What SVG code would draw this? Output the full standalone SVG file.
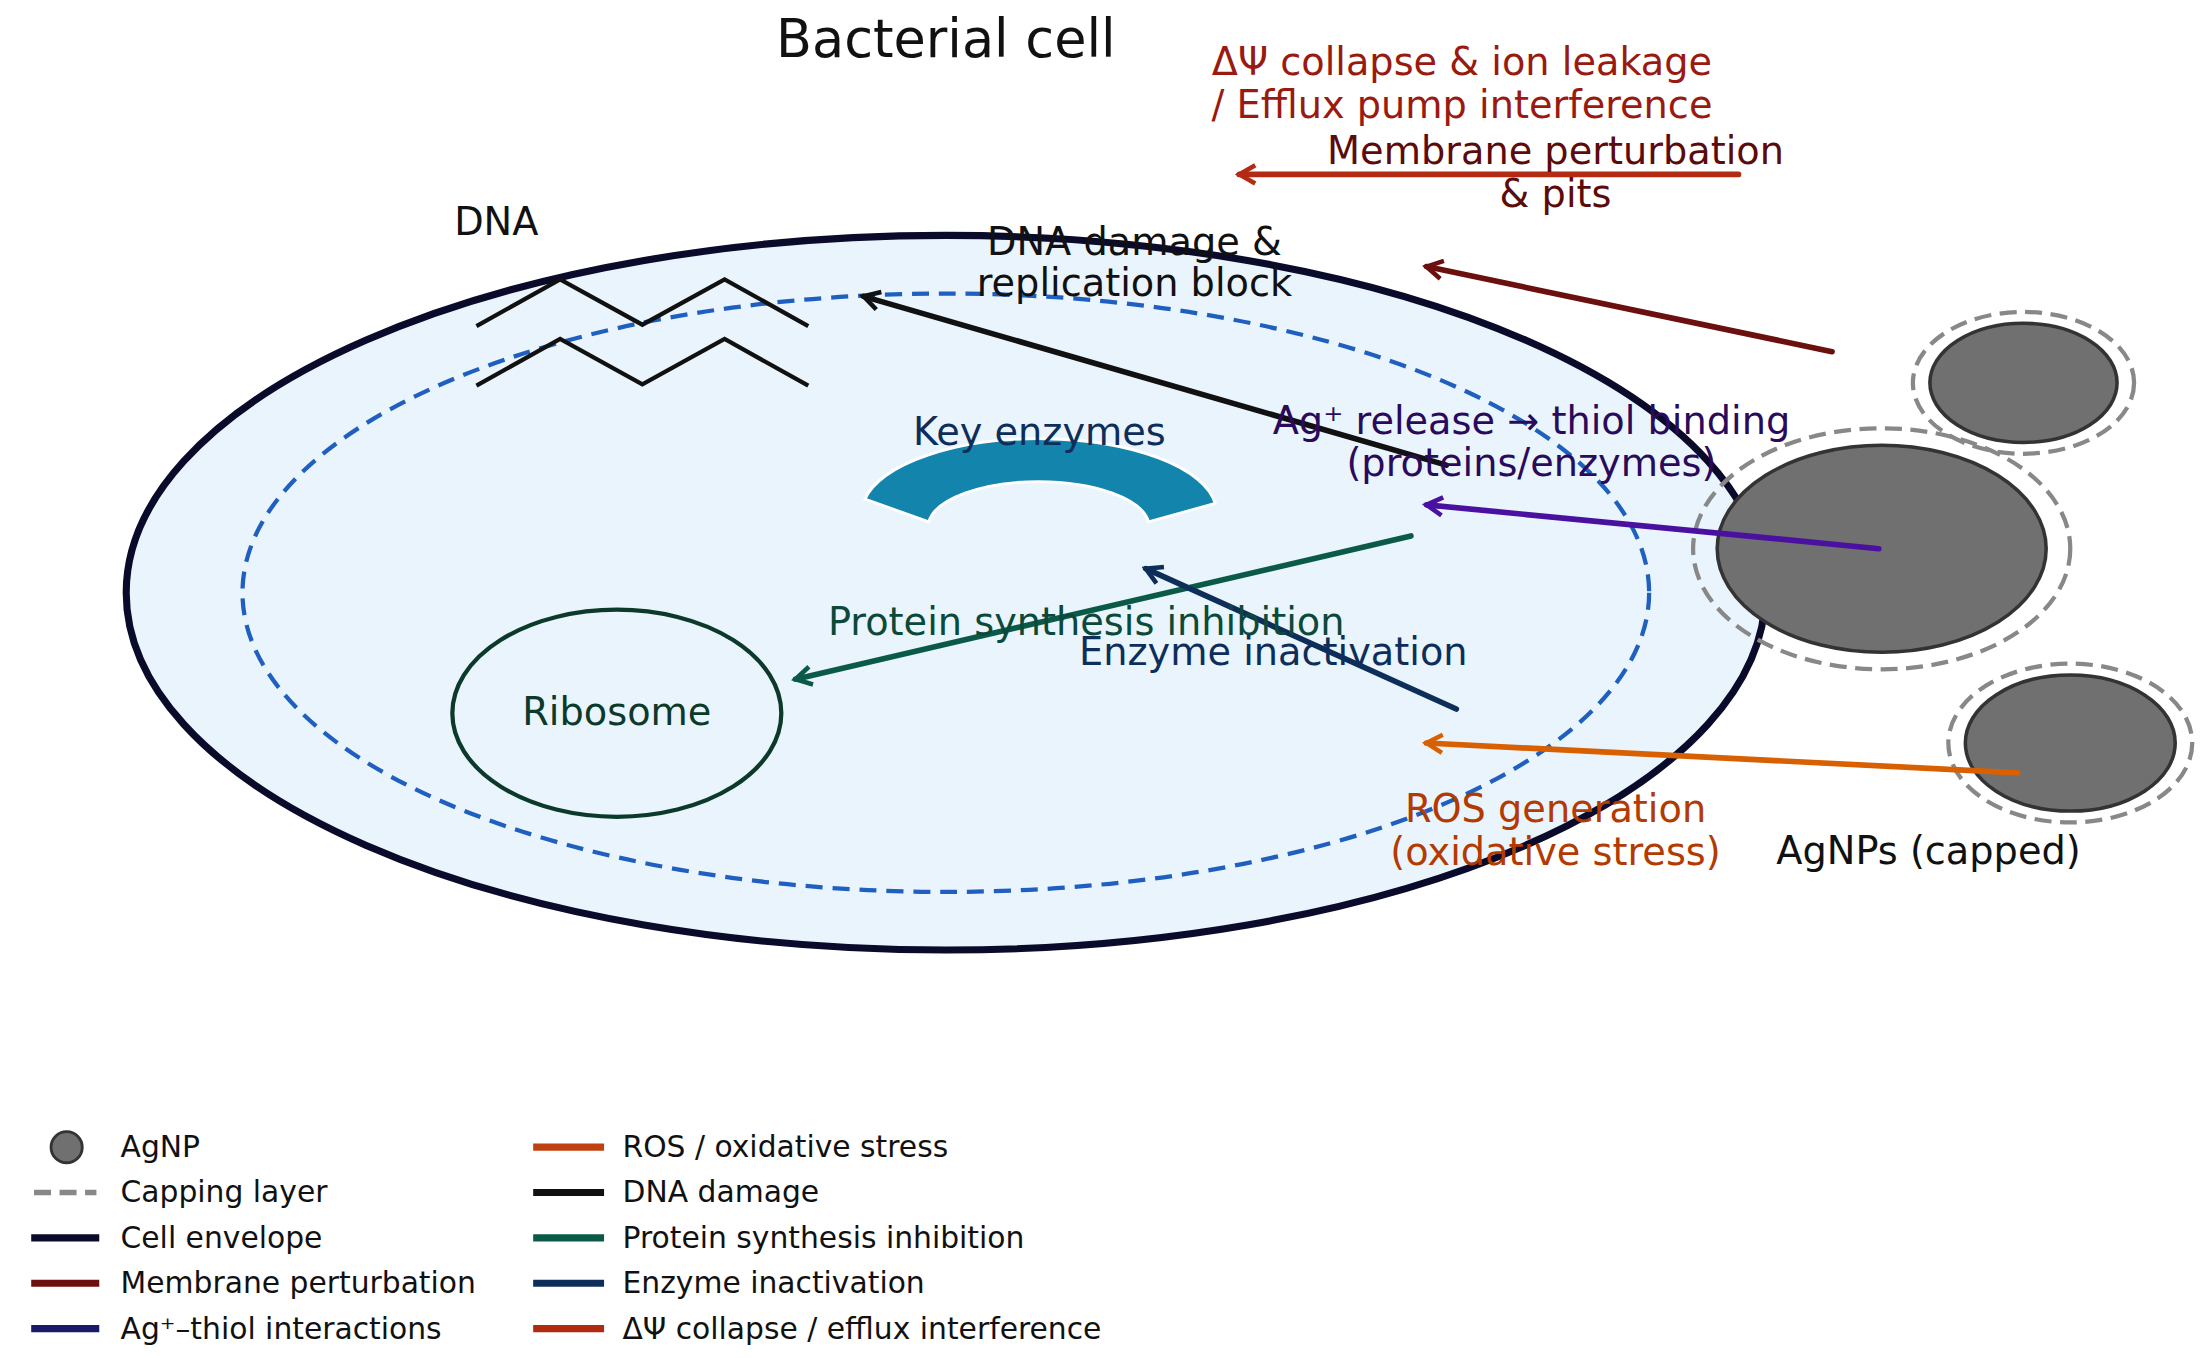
<svg xmlns="http://www.w3.org/2000/svg" width="2212" height="1358" viewBox="0 0 2212 1358">
<style>
text{font-family:"DejaVu Sans","Liberation Sans",sans-serif}
.lbl{font-size:27px;text-anchor:middle}
.leg{font-size:21px;fill:#111}
.cap{fill:none;stroke:#888;stroke-width:3;stroke-dasharray:12,6}
.np{fill:#707070;stroke:#333;stroke-width:2.5}
.ar{fill:none;stroke-width:4;stroke-linecap:round}
</style>
<defs>
<marker id="ah" viewBox="0 0 10 10" refX="8" refY="5" markerWidth="4" markerHeight="4" orient="auto" markerUnits="strokeWidth"><path d="M1,1 L8,5 L1,9" fill="none" stroke="context-stroke" stroke-width="2"/></marker>
</defs>
<rect width="2212" height="1358" fill="#fff"/>
<g transform="scale(1.418)">
<g id="title"><text x="667" y="40" font-size="37" text-anchor="middle" fill="#111">Bacterial cell</text></g>
<g id="cell">
<ellipse cx="667" cy="418" rx="578" ry="252" fill="#eaf4fd" stroke="#0a0a2a" stroke-width="5"/>
<ellipse cx="667" cy="418" rx="496" ry="211" fill="none" stroke="#1f5fbf" stroke-width="3" stroke-dasharray="12,7"/>
</g>
<g id="dna">
<polyline points="336,230 395,197 453,229 511,197 570,230" fill="none" stroke="#111" stroke-width="3"/>
<polyline points="336,272 395,239 453,271 511,239 570,272" fill="none" stroke="#111" stroke-width="3"/>
<text x="350" y="166" class="lbl" fill="#111">DNA</text>
</g>
<g id="enzymes">
<path d="M610,352 A125,52 0 0 1 857,355 L810,368 A78,32 0 0 0 655,368 Z" fill="#1385ad" stroke="#fff" stroke-width="2"/>
<text x="733" y="314" class="lbl" fill="#0e2e5a">Key enzymes</text>
</g>
<g id="ribosome">
<ellipse cx="435" cy="503" rx="116" ry="73" fill="none" stroke="#0b3a2a" stroke-width="3"/>
<text x="435" y="511" class="lbl" fill="#0b3a2a" font-size="24">Ribosome</text>
</g>
<g id="agnps">
<ellipse cx="1427" cy="270" rx="78" ry="50" class="cap"/>
<ellipse cx="1427" cy="270" rx="66" ry="42" class="np"/>
<ellipse cx="1327" cy="387" rx="133" ry="85" class="cap"/>
<ellipse cx="1327" cy="387" rx="116" ry="73" class="np"/>
<ellipse cx="1460" cy="524" rx="86" ry="56" class="cap"/>
<ellipse cx="1460" cy="524" rx="74" ry="48" class="np"/>
<text x="1360" y="609" class="lbl" fill="#111">AgNPs (capped)</text>
</g>
<g id="connectors">
<line x1="1226" y1="123" x2="874" y2="123" class="ar" stroke="#b22b12" marker-end="url(#ah)"/>
<line x1="1292" y1="248" x2="1006" y2="188" class="ar" stroke="#6b0f0f" marker-end="url(#ah)"/>
<line x1="1020" y1="328" x2="609" y2="209" class="ar" stroke="#111" marker-end="url(#ah)"/>
<line x1="1325" y1="387" x2="1006" y2="356" class="ar" stroke="#4a10a0" marker-end="url(#ah)"/>
<line x1="995" y1="378" x2="561" y2="479" class="ar" stroke="#0b5a48" marker-end="url(#ah)"/>
<line x1="1027" y1="500" x2="808" y2="401" class="ar" stroke="#0e2e5a" marker-end="url(#ah)"/>
<line x1="1423" y1="545" x2="1006" y2="524" class="ar" stroke="#d86000" marker-end="url(#ah)"/>
</g>
<g id="labels">
<text x="1031" y="53" class="lbl" fill="#9a1a10">ΔΨ collapse &amp; ion leakage</text>
<text x="1031" y="83" class="lbl" fill="#9a1a10">/ Efflux pump interference</text>
<text x="1097" y="116" class="lbl" fill="#5c0a0a">Membrane perturbation</text>
<text x="1097" y="146" class="lbl" fill="#5c0a0a">&amp; pits</text>
<text x="800" y="180" class="lbl" fill="#111">DNA damage &amp;</text>
<text x="800" y="209" class="lbl" fill="#111">replication block</text>
<text x="1080" y="306" class="lbl" fill="#2a0a5a">Ag⁺ release → thiol binding</text>
<text x="1080" y="336" class="lbl" fill="#2a0a5a">(proteins/enzymes)</text>
<text x="766" y="448" class="lbl" fill="#0b4a3a">Protein synthesis inhibition</text>
<text x="898" y="469" class="lbl" fill="#0e2e5a">Enzyme inactivation</text>
<text x="1097" y="580" class="lbl" fill="#b33a00">ROS generation</text>
<text x="1097" y="610" class="lbl" fill="#b33a00">(oxidative stress)</text>
</g>
<g id="legend">
<ellipse cx="47" cy="809" rx="11" ry="11" fill="#707070" stroke="#333" stroke-width="2"/>
<line x1="24" y1="841" x2="68" y2="841" stroke="#888" stroke-width="4" stroke-dasharray="12,6"/>
<line x1="22" y1="873" x2="70" y2="873" stroke="#0a0a2a" stroke-width="5"/>
<line x1="22" y1="905" x2="70" y2="905" stroke="#6b0f0f" stroke-width="5"/>
<line x1="22" y1="937" x2="70" y2="937" stroke="#1a1a6a" stroke-width="5"/>
<text x="85" y="816" class="leg">AgNP</text>
<text x="85" y="848" class="leg">Capping layer</text>
<text x="85" y="880" class="leg">Cell envelope</text>
<text x="85" y="912" class="leg">Membrane perturbation</text>
<text x="85" y="944" class="leg">Ag⁺–thiol interactions</text>
<line x1="376" y1="809" x2="426" y2="809" stroke="#c04010" stroke-width="5"/>
<line x1="376" y1="841" x2="426" y2="841" stroke="#111" stroke-width="5"/>
<line x1="376" y1="873" x2="426" y2="873" stroke="#0b5a48" stroke-width="5"/>
<line x1="376" y1="905" x2="426" y2="905" stroke="#0e2e5a" stroke-width="5"/>
<line x1="376" y1="937" x2="426" y2="937" stroke="#b02a10" stroke-width="5"/>
<text x="439" y="816" class="leg">ROS / oxidative stress</text>
<text x="439" y="848" class="leg">DNA damage</text>
<text x="439" y="880" class="leg">Protein synthesis inhibition</text>
<text x="439" y="912" class="leg">Enzyme inactivation</text>
<text x="439" y="944" class="leg">ΔΨ collapse / efflux interference</text>
</g>
</g>
</svg>
